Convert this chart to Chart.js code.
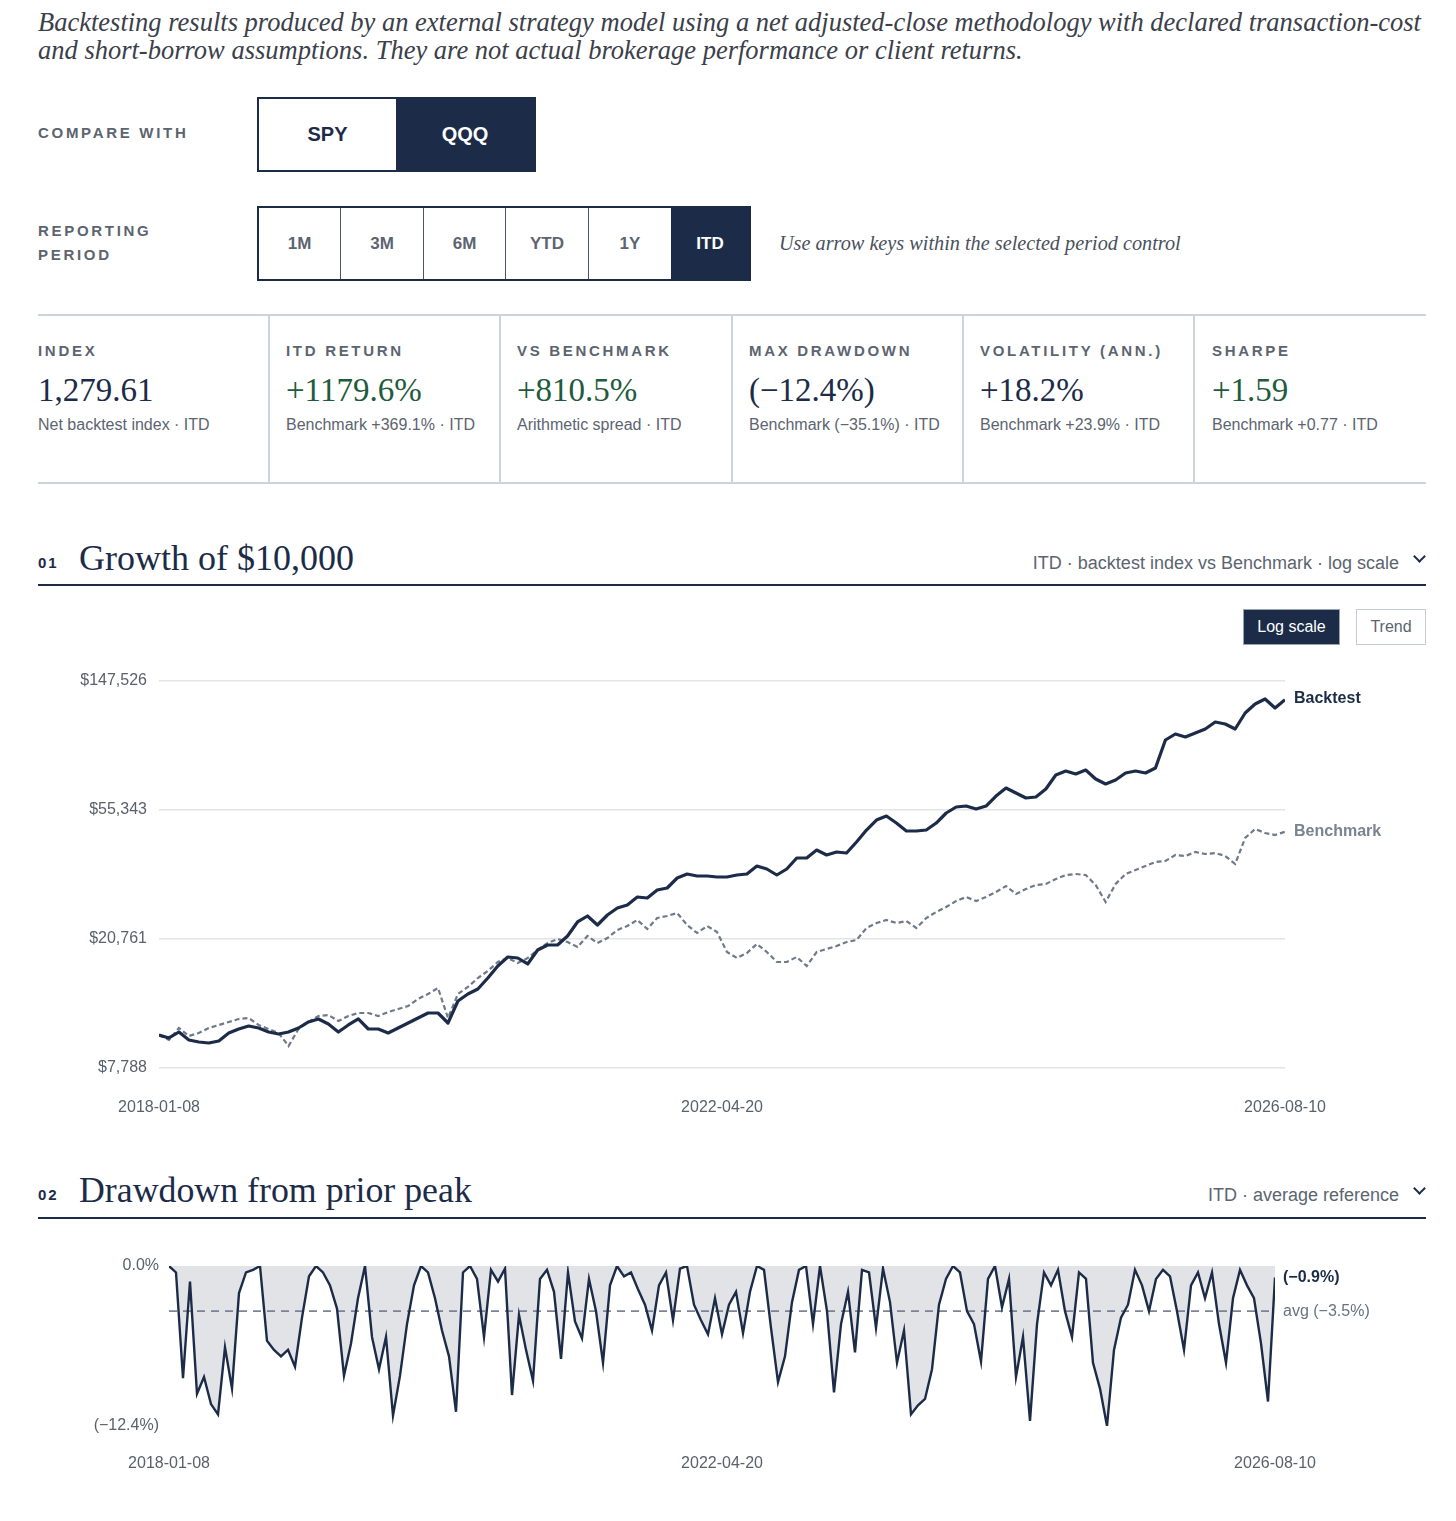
<!DOCTYPE html>
<html lang="en">
<head>
<meta charset="UTF-8">
<title>Backtest results</title>
<script src="https://cdn.jsdelivr.net/npm/chart.js@4.4.1/dist/chart.umd.min.js"></script>
<style>
  html, body { margin: 0; padding: 0; background: #fff; }
  body { width: 1456px; height: 1521px; position: relative; overflow: hidden;
         font-family: "Liberation Sans", Arial, sans-serif; color: #1c2c48; }
  .abs { position: absolute; white-space: nowrap; }
  .serif { font-family: "Liberation Serif", serif; }
  .intro { left: 38px; top: 8px; font-style: italic; font-size: 25px; line-height: 28px; color: #3b404a; }
  .intro span { display: inline-block; }
  .kicker { font-weight: bold; font-size: 15px; letter-spacing: 2.7px; color: #5c6470; line-height: 24px; }
  .seg { position: absolute; display: flex; border: 2px solid #1c2c48; box-sizing: border-box; }
  .seg div { display: flex; align-items: center; justify-content: center; font-weight: bold; }
  .seg .on { background: #1c2c48; color: #fff; }
  .cmp div { font-size: 20px; color: #1c2c48; }
  .per div { font-size: 17px; color: #5c6470; border-left: 1.5px solid #4b5567; }
  .per div:first-child { border-left: none; }
  .hint { left: 779px; top: 231px; line-height: 24px; font-style: italic; font-size: 19px; color: #4a505c; }
  .hint span { display: inline-block; }
  .rule { position: absolute; left: 38px; width: 1388px; }
  .vline { position: absolute; top: 315px; height: 168px; width: 1.5px; background: #cdd3da; }
  .slabel { font-weight: bold; font-size: 15px; letter-spacing: 2.7px; color: #5c6470; top: 341px; line-height: 20px; }
  .sval { font-size: 33px; top: 370px; line-height: 40px; color: #1c2c48; }
  .sval.pos { color: #1f5b3d; }
  .ssub { font-size: 16px; top: 415px; line-height: 20px; color: #5c6470; }
  .num { font-weight: bold; font-size: 15px; letter-spacing: 2px; color: #1c2c48; }
  .title { font-size: 36px; color: #1c2c48; line-height: 44px; }
  .title span { display: inline-block; }
  .meta { font-size: 18px; color: #5c6470; line-height: 24px; }
  .chev { position: absolute; width: 7px; height: 7px; border-right: 2px solid #1c2c48; border-bottom: 2px solid #1c2c48; transform: rotate(45deg); }
  .btn { position: absolute; top: 609px; height: 36px; box-sizing: border-box; display: flex; align-items: center; justify-content: center; font-size: 16px; }
  canvas { position: absolute; left: 0; }
</style>
</head>
<body>

<div class="abs serif intro" id="intro">
  <span id="introA">Backtesting results produced by an external strategy model using a net adjusted-close methodology with declared transaction-cost</span><br>
  <span id="introB">and short-borrow assumptions. They are not actual brokerage performance or client returns.</span>
</div>

<div class="abs kicker" style="left:38px; top:121px;">COMPARE WITH</div>
<div class="seg cmp" style="left:257px; top:97px; width:279px; height:75px;">
  <div style="width:137px;">SPY</div>
  <div class="on" style="flex:1;">QQQ</div>
</div>

<div class="abs kicker" style="left:38px; top:219px;">REPORTING<br>PERIOD</div>
<div class="seg per" style="left:257px; top:206px; width:494px; height:75px;">
  <div style="width:81px;">1M</div>
  <div style="width:82px;">3M</div>
  <div style="width:81px;">6M</div>
  <div style="width:82px;">YTD</div>
  <div style="width:82px;">1Y</div>
  <div class="on" style="flex:1; border-left:none;">ITD</div>
</div>
<div class="abs serif hint"><span id="hint">Use arrow keys within the selected period control</span></div>

<div class="rule" style="top:314px; height:1.5px; background:#cdd3da;"></div>
<div class="rule" style="top:482px; height:1.5px; background:#cdd3da;"></div>
<div class="vline" style="left:268px;"></div>
<div class="vline" style="left:499px;"></div>
<div class="vline" style="left:731px;"></div>
<div class="vline" style="left:962px;"></div>
<div class="vline" style="left:1193px;"></div>

<div class="abs slabel" style="left:38px;">INDEX</div>
<div class="abs serif sval" style="left:38px;">1,279.61</div>
<div class="abs ssub" style="left:38px;">Net backtest index · ITD</div>

<div class="abs slabel" style="left:286px;">ITD RETURN</div>
<div class="abs serif sval pos" style="left:286px;">+1179.6%</div>
<div class="abs ssub" style="left:286px;">Benchmark +369.1% · ITD</div>

<div class="abs slabel" style="left:517px;">VS BENCHMARK</div>
<div class="abs serif sval pos" style="left:517px;">+810.5%</div>
<div class="abs ssub" style="left:517px;">Arithmetic spread · ITD</div>

<div class="abs slabel" style="left:749px;">MAX DRAWDOWN</div>
<div class="abs serif sval" style="left:749px;">(−12.4%)</div>
<div class="abs ssub" style="left:749px;">Benchmark (−35.1%) · ITD</div>

<div class="abs slabel" style="left:980px;">VOLATILITY (ANN.)</div>
<div class="abs serif sval" style="left:980px;">+18.2%</div>
<div class="abs ssub" style="left:980px;">Benchmark +23.9% · ITD</div>

<div class="abs slabel" style="left:1212px;">SHARPE</div>
<div class="abs serif sval pos" style="left:1212px;">+1.59</div>
<div class="abs ssub" style="left:1212px;">Benchmark +0.77 · ITD</div>

<!-- section 01 -->
<div class="abs num" style="left:38px; top:551px; line-height:24px;">01</div>
<div class="abs serif title" style="left:79px; top:536px;"><span id="t1">Growth of $10,000</span></div>
<div class="abs meta" style="right:57px; top:551px;">ITD · backtest index vs Benchmark · log scale</div>
<div class="chev" style="left:1415px; top:552px;"></div>
<div class="rule" style="top:584px; height:2px; background:#1c2c48;"></div>

<div class="btn" style="left:1243px; width:97px; background:#1c2c48; color:#fff; border:1.5px solid #9aa3b0;">Log scale</div>
<div class="btn" style="left:1356px; width:70px; color:#5c6470; border:1.5px solid #c6ccd4;">Trend</div>

<canvas id="growth" width="1456" height="500" style="top:640px;"></canvas>

<!-- section 02 -->
<div class="abs num" style="left:38px; top:1183px; line-height:24px;">02</div>
<div class="abs serif title" style="left:79px; top:1168px;"><span id="t2">Drawdown from prior peak</span></div>
<div class="abs meta" style="right:57px; top:1183px;">ITD · average reference</div>
<div class="chev" style="left:1415px; top:1184px;"></div>
<div class="rule" style="top:1217px; height:1.5px; background:#1c2c48;"></div>

<canvas id="drawdown" width="1456" height="250" style="top:1240px;"></canvas>

<script>
// ---- data ----
const xTickLabels = ['2018-01-08', '2022-04-20', '2026-08-10'];
const growthTicks = [7788, 20761, 55343, 147526];

// growth of $10,000, roughly weekly-spaced samples
const backtest = [
  10000, 9783, 10239, 9635, 9490, 9418, 9562, 10162, 10475, 10717,
  10555, 10239, 10085, 10239, 10555, 11048, 11303, 10881, 10239, 10799,
  11303, 10475, 10475, 10162, 10555, 10964, 11389, 11830, 11830, 10964,
  12960, 13667, 14198, 15436, 16909, 18106, 17969, 17169, 19096, 19836,
  19836, 21240, 23625, 24726, 23092, 24915, 26276, 26883, 28568, 28352,
  30129, 30591, 33006, 34025, 33511, 33511, 33258, 33258, 33767, 34025,
  36158, 35343, 33767, 35343, 38424, 38424, 40832, 39310, 40217, 39913,
  43393, 47535, 51289, 52872, 50133, 47177, 47177, 47535, 50133, 54093,
  56617, 57048, 55762, 57048, 61553, 65413, 62974, 60625, 61088, 64918,
  72208, 74438, 72759, 75006, 70045, 67433, 69515, 73315, 74438, 73315,
  76155, 94216, 98613, 96390, 99366, 102433, 108032, 106401, 102433, 115680,
  123870, 128667, 120160, 127961
];
const benchmark = [
  10000, 9635, 10555, 9932, 10162, 10555, 10799, 11048, 11303, 11389,
  10799, 10475, 10162, 9206, 10475, 11048, 11563, 11651, 11132, 11563,
  11830, 11830, 11563, 11920, 12195, 12477, 13158, 13667, 14306, 11389,
  13667, 14415, 15436, 16279, 17432, 17969, 17300, 17969, 19096, 20140,
  20761, 20293, 19537, 21240, 20140, 20920, 22231, 22917, 23986, 22401,
  24353, 24726, 25297, 23092, 21730, 22917, 21896, 18808, 17969, 18665,
  19987, 18808, 17432, 17432, 18106, 16909, 18808, 19242, 19686, 20293,
  20604, 22572, 23446, 23986, 23446, 23805, 22572, 24353, 25490, 26477,
  27713, 28568, 27713, 28568, 29675, 31059, 29227, 30359, 31296, 31535,
  32756, 33767, 34025, 33767, 31296, 27503, 31535, 34025, 35075, 36158,
  37273, 37557, 39310, 39012, 40217, 39610, 39913, 39012, 36712, 44732,
  47898, 46465, 45764, 46910
];

// drawdown from prior peak, percent
const drawdown = [
  0.0, -0.5, -8.7, -1.2, -9.9, -8.6, -10.7, -11.5, -6.3, -9.5,
  -2.1, -0.5, -0.3, 0.0, -5.8, -6.5, -7.0, -6.5, -7.8, -4.0,
  -0.8, 0.0, -0.5, -1.5, -3.3, -8.5, -6.0, -2.5, 0.0, -5.5,
  -8.0, -5.5, -11.6, -8.5, -4.5, -1.5, 0.0, -0.5, -2.5, -5.0,
  -7.0, -11.3, -0.5, 0.0, -1.0, -5.5, -0.3, -1.2, -0.2, -10.0,
  -3.8, -6.5, -8.9, -1.0, -0.3, -2.0, -7.2, -0.5, -4.3, -5.6,
  -1.0, -3.5, -7.5, -1.5, 0.0, -0.8, -0.5, -1.8, -3.0, -5.0,
  -1.5, -0.5, -4.2, -0.2, 0.0, -3.0, -4.2, -5.3, -2.5, -5.3,
  -3.0, -2.0, -5.2, -2.0, 0.0, -0.3, -4.8, -9.0, -7.0, -2.8,
  -0.3, 0.0, -4.5, 0.0, -3.5, -9.8, -4.5, -2.0, -6.7, -0.3,
  -0.5, -4.8, -0.2, -2.8, -7.5, -5.0, -11.5, -10.8, -10.3, -8.0,
  -3.0, -1.0, 0.0, -0.5, -3.5, -4.5, -7.4, -1.0, 0.0, -3.2,
  -1.0, -8.6, -5.5, -12.0, -4.5, -0.5, -1.5, -0.3, -3.5, -5.5,
  -0.5, -1.0, -7.5, -9.5, -12.4, -6.5, -4.0, -3.0, -0.3, -1.5,
  -3.5, -1.0, -0.3, -0.8, -3.5, -6.5, -1.5, -0.5, -2.5, -0.5,
  -4.5, -7.5, -2.5, -0.3, -1.5, -2.5, -6.0, -10.5, -0.9
];
const drawdownTicks = [-12.4, 0];
const avgDrawdown = -3.5;

// ---- styling ----
const NAVY = '#1c2c48';
const GREY = '#6f7989';
const TICK = '#5a616c';
const SANS = '"Liberation Sans", Arial, sans-serif';

function fitWidth(el, target) {
  const w = el.getBoundingClientRect().width;
  const fs = parseFloat(getComputedStyle(el).fontSize);
  return fs * target / w;
}
document.getElementById('intro').style.fontSize = fitWidth(document.getElementById('introA'), 1383) + 'px';
const hint = document.getElementById('hint');
hint.parentNode.style.fontSize = fitWidth(hint, 402) + 'px';
const t1 = document.getElementById('t1');
t1.parentNode.style.fontSize = fitWidth(t1, 275) + 'px';
const t2 = document.getElementById('t2');
t2.parentNode.style.fontSize = fitWidth(t2, 393) + 'px';

const endLabels = {
  id: 'endLabels',
  afterDatasetsDraw(chart, args, opts) {
    const ctx = chart.ctx;
    opts.items.forEach(it => {
      const meta = chart.getDatasetMeta(it.dataset);
      const pt = meta.data[meta.data.length - 1];
      ctx.save();
      ctx.font = it.font;
      ctx.fillStyle = it.color;
      ctx.textBaseline = 'middle';
      ctx.textAlign = 'left';
      ctx.fillText(it.text, pt.x + it.dx, pt.y + (it.dy || 0));
      ctx.restore();
    });
  }
};

function xAxis(n, height, pad) {
  return {
    type: 'linear', min: 0, max: n - 1,
    grid: { display: false }, border: { display: false },
    afterBuildTicks: s => { s.ticks = [0, (n - 1) / 2, n - 1].map(v => ({ value: v })); },
    afterFit: s => { s.height = height; },
    ticks: {
      autoSkip: false, maxRotation: 0, padding: pad, color: TICK,
      font: { family: SANS, size: 16 },
      callback: (v, i) => xTickLabels[i]
    }
  };
}

const pts = arr => arr.map((v, i) => ({ x: i, y: v }));

new Chart(document.getElementById('growth'), {
  type: 'line',
  data: {
    datasets: [
      { label: 'Backtest', data: pts(backtest), borderColor: NAVY, borderWidth: 3.2,
        pointRadius: 0, tension: 0, borderJoinStyle: 'round' },
      { label: 'Benchmark', data: pts(benchmark), borderColor: GREY, borderWidth: 2.2,
        borderDash: [5, 3], pointRadius: 0, tension: 0 }
    ]
  },
  options: {
    responsive: false, animation: false,
    layout: { padding: { top: 41, right: 171, left: 0, bottom: 0 } },
    plugins: {
      legend: { display: false }, tooltip: { enabled: false },
      endLabels: { items: [
        { dataset: 0, text: 'Backtest', font: 'bold 16px ' + SANS, color: NAVY, dx: 9, dy: -1 },
        { dataset: 1, text: 'Benchmark', font: 'bold 16px ' + SANS, color: '#7a8391', dx: 9, dy: 0 }
      ] }
    },
    scales: {
      x: xAxis(backtest.length, 72, 22),
      y: {
        type: 'logarithmic', min: growthTicks[0], max: growthTicks[growthTicks.length - 1],
        border: { display: false },
        grid: { color: '#e3e4e6', lineWidth: 1.5, drawTicks: false },
        afterBuildTicks: s => { s.ticks = growthTicks.map(v => ({ value: v })); },
        afterFit: s => { s.width = 159; },
        ticks: {
          padding: 12, color: TICK, font: { family: SANS, size: 16 },
          callback: v => '$' + Math.round(v).toLocaleString('en-US')
        }
      }
    }
  },
  plugins: [endLabels]
});

const fmtPct = v => v === 0 ? '0.0%' : '(\u2212' + Math.abs(v).toFixed(1) + '%)';

new Chart(document.getElementById('drawdown'), {
  type: 'line',
  data: {
    datasets: [
      { label: 'Drawdown', data: pts(drawdown), borderColor: NAVY, borderWidth: 2.4,
        backgroundColor: '#e2e3e7', fill: { value: 0 }, pointRadius: 0, tension: 0 },
      { label: 'Average', data: [{ x: 0, y: avgDrawdown }, { x: drawdown.length - 1, y: avgDrawdown }],
        borderColor: '#7b8494', borderWidth: 1.6, borderDash: [8, 6], pointRadius: 0, fill: false }
    ]
  },
  options: {
    responsive: false, animation: false,
    layout: { padding: { top: 26, right: 181, left: 0, bottom: 0 } },
    plugins: {
      legend: { display: false }, tooltip: { enabled: false },
      filler: { drawTime: 'beforeDatasetsDraw' },
      endLabels: { items: [
        { dataset: 0, text: '(\u22120.9%)', font: 'bold 16px ' + SANS, color: NAVY, dx: 8, dy: 0 },
        { dataset: 1, text: 'avg (\u22123.5%)', font: '16px ' + SANS, color: '#6a7280', dx: 8, dy: 0 }
      ] }
    },
    scales: {
      x: xAxis(drawdown.length, 64, 20),
      y: {
        type: 'linear', min: drawdownTicks[0], max: drawdownTicks[1],
        border: { display: false },
        grid: { display: false, drawTicks: false },
        afterBuildTicks: s => { s.ticks = drawdownTicks.map(v => ({ value: v })); },
        afterFit: s => { s.width = 169; },
        ticks: {
          padding: 10, color: TICK, font: { family: SANS, size: 16 },
          callback: v => fmtPct(v)
        }
      }
    }
  },
  plugins: [endLabels]
});
</script>
</body>
</html>
